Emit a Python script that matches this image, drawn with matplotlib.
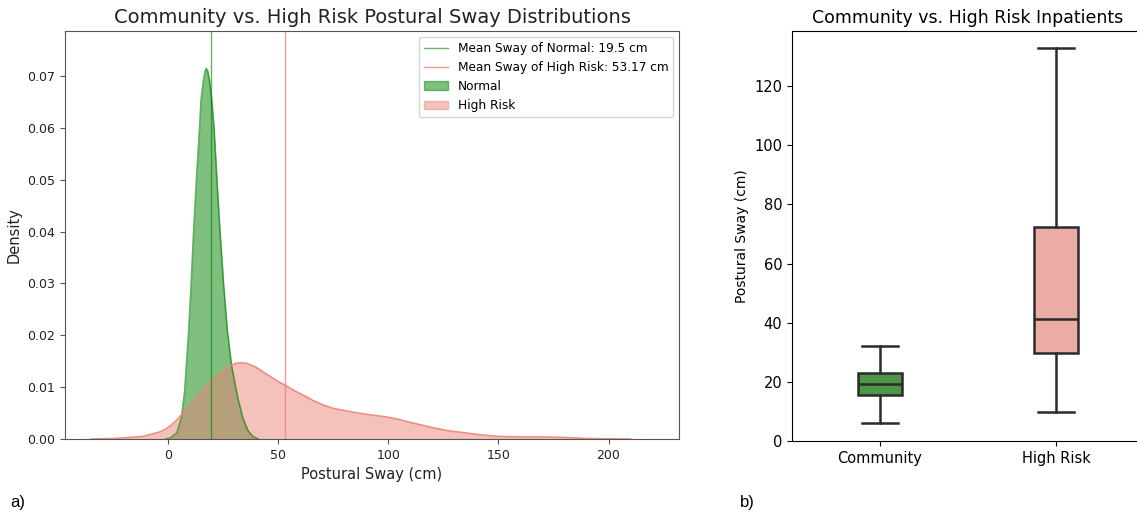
import numpy as np
import matplotlib.pyplot as plt
from matplotlib.lines import Line2D
from matplotlib.patches import Patch

# density curves (x in cm, density)
normal_x = [-1, 1, 4, 6, 7.5, 9.4, 10.5, 11.6, 12.9, 14.3, 15, 16, 16.7, 17.3, 18, 18.8, 19.8, 20.9, 22.2, 23.6,
            25.2, 26.9, 28.9, 31.6, 34, 36.3, 38.5, 41]
normal_y = [0.0, 0.0002, 0.0012, 0.004, 0.009, 0.021, 0.030, 0.040, 0.050, 0.060, 0.0655, 0.0690, 0.0708, 0.0715,
            0.0710, 0.0692, 0.0655, 0.060, 0.050, 0.040, 0.030, 0.021, 0.0140, 0.008, 0.0040, 0.0016, 0.0005, 0.0]

high_x = [-35, -24, -11.5, -4.2, -1.5, 1.3, 4.5, 7.7, 11, 14.1, 17.7, 21.4, 24.2, 26.9, 29, 31, 33.3, 35.5, 37.5,
          39.7, 43, 47, 50, 53.4, 57.5, 61.6, 66, 70.8, 75, 79.9, 85, 90.9, 95, 100, 104.5, 109, 114, 120, 127,
          134.7, 142, 150, 160, 170, 180, 190, 200, 210]
high_y = [0.0, 0.0001, 0.0005, 0.0013, 0.0018, 0.0026, 0.0039, 0.0055, 0.0071, 0.0087, 0.0104, 0.0119, 0.0130,
          0.0138, 0.0143, 0.0146, 0.0147, 0.0146, 0.0143, 0.0139, 0.0130, 0.0119, 0.0111, 0.0103, 0.0093, 0.0084,
          0.0074, 0.0065, 0.0059, 0.0055, 0.0051, 0.0047, 0.0045, 0.0042, 0.0038, 0.0033, 0.0028, 0.0022, 0.0016,
          0.0012, 0.0008, 0.0005, 0.0004, 0.0004, 0.0003, 0.0001, 0.00003, 0.0]

mean_normal = 19.5
mean_high = 53.17

# boxplot summary stats
groups = ["Community", "High Risk"]
whislo = [6.2, 9.7]
q1 = [15.7, 29.7]
med = [19.1, 41.4]
q3 = [22.9, 72.3]
whishi = [32.1, 132.7]

W, H = 1137, 517
fig = plt.figure(figsize=(W / 100, H / 100), dpi=100)

def box(l, t, r, b):
    return [l / W, 1 - b / H, (r - l) / W, (b - t) / H]

pink = "#ea8579"

# ---------------- a) KDE ----------------
ax = fig.add_axes(box(65, 31, 679, 439))
ax.fill_between(normal_x, normal_y, color="green", alpha=0.5, lw=0)
ax.plot(normal_x, normal_y, color="green", alpha=0.6, lw=1.2)
ax.fill_between(high_x, high_y, color=pink, alpha=0.5, lw=0)
ax.plot(high_x, high_y, color=pink, alpha=0.9, lw=1.2)
ax.axvline(mean_normal, color="green", alpha=0.6, lw=1)
ax.axvline(mean_high, color=pink, alpha=0.8, lw=1)
ax.set_xlim(-46.8, 232)
ax.set_ylim(0, 0.0787)
ax.set_xticks([0, 50, 100, 150, 200])
ax.set_yticks(np.arange(0, 0.071, 0.01))
ax.yaxis.set_major_formatter(plt.FormatStrFormatter("%.2f"))
ax.tick_params(labelsize=9, colors="#555555", labelcolor="#222222")
for s in ax.spines.values():
    s.set_color("#555555")
ax.set_xlabel("Postural Sway (cm)", fontsize=10.5, color="#222222")
ax.set_ylabel("Density", fontsize=10.5, color="#222222")
ax.set_title("Community vs. High Risk Postural Sway Distributions", fontsize=14, color="#222222")
handles = [Line2D([], [], color="green", alpha=0.6, lw=1),
           Line2D([], [], color=pink, alpha=0.8, lw=1),
           Patch(facecolor="green", alpha=0.5, edgecolor="green"),
           Patch(facecolor=pink, alpha=0.5, edgecolor=pink)]
labels = [f"Mean Sway of Normal: {mean_normal} cm", f"Mean Sway of High Risk: {mean_high} cm", "Normal", "High Risk"]
ax.legend(handles, labels, loc="upper right", fontsize=8.7)

# ---------------- b) boxplot ----------------
bx = fig.add_axes(box(792, 31, 1144, 441))
stats = [dict(label=g, whislo=a, q1=b, med=c, q3=d, whishi=e)
         for g, a, b, c, d, e in zip(groups, whislo, q1, med, q3, whishi)]
lc = "#2b2b2b"
bp = bx.bxp(stats, positions=[0, 1], widths=0.25, showfliers=False, patch_artist=True,
            boxprops=dict(edgecolor=lc, linewidth=1.8),
            medianprops=dict(color=lc, linewidth=1.8),
            whiskerprops=dict(color=lc, linewidth=1.8),
            capprops=dict(color=lc, linewidth=1.8), capwidths=0.2)
for patch, c in zip(bp["boxes"], ["#4d9549", "#ebaca5"]):
    patch.set_facecolor(c)
bx.set_xlim(-0.5, 1.5)
bx.set_ylim(0, 138.6)
bx.set_yticks(range(0, 121, 20))
bx.tick_params(labelsize=10.5)
bx.set_ylabel("Postural Sway (cm)", fontsize=10)
bx.set_title("Community vs. High Risk Inpatients", fontsize=12.5)

fig.text(10 / W, 1 - 503 / H, "a)", fontsize=12, family="Liberation Sans", va="center")
fig.text(740 / W, 1 - 503 / H, "b)", fontsize=12, family="Liberation Sans", va="center")

fig.savefig("out.png", dpi=100)
